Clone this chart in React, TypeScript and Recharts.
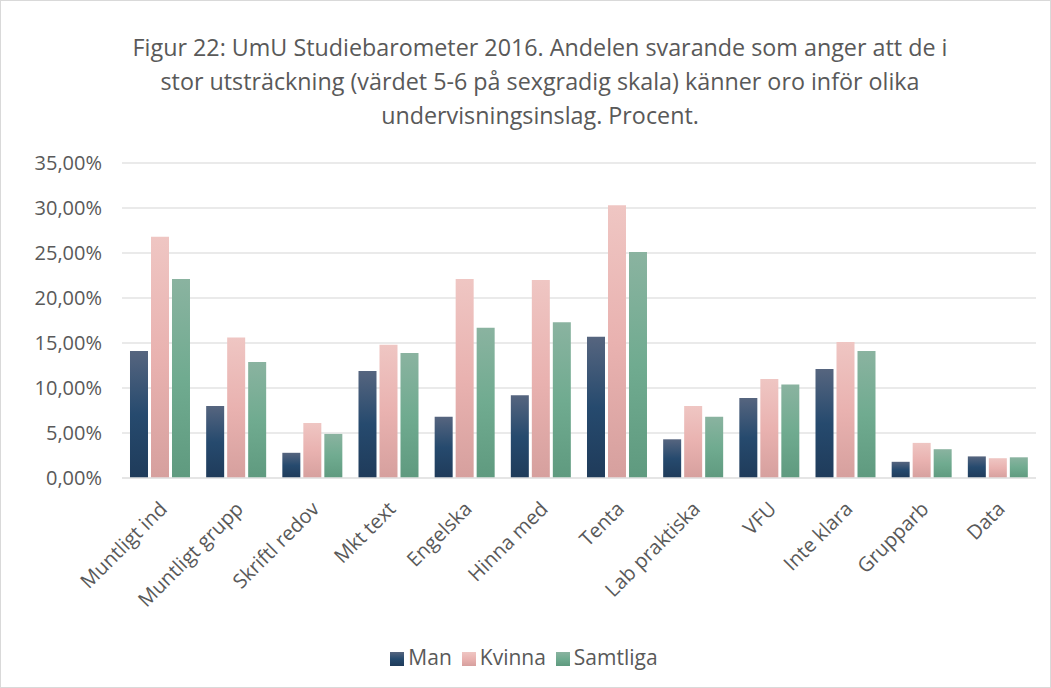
import { BarChart, Bar, XAxis, YAxis, CartesianGrid, Legend } from 'recharts'

const categories = [
  'Muntligt ind', 'Muntligt grupp', 'Skriftl redov', 'Mkt text', 'Engelska', 'Hinna med',
  'Tenta', 'Lab praktiska', 'VFU', 'Inte klara', 'Grupparb', 'Data',
]
const man = [14.1, 8.0, 2.8, 11.9, 6.8, 9.2, 15.7, 4.3, 8.9, 12.1, 1.8, 2.4]
const kvinna = [26.8, 15.6, 6.1, 14.8, 22.1, 22.0, 30.3, 8.0, 11.0, 15.1, 3.9, 2.2]
const samtliga = [22.1, 12.9, 4.9, 13.9, 16.7, 17.3, 25.1, 6.8, 10.4, 14.1, 3.2, 2.3]
const yTicks = [0, 5, 10, 15, 20, 25, 30, 35]
const seriesOrder = ['Man', 'Kvinna', 'Samtliga']

const data = categories.map((name, i) => ({
  name,
  Man: man[i],
  Kvinna: kvinna[i],
  Samtliga: samtliga[i],
}))

const font = '"Open Sans", Lato, sans-serif'
const textColor = '#595959'

const fmt = (v: number) => v.toFixed(2).replace('.', ',') + '%'

function XTick(props: any) {
  const { x, y, payload } = props
  return (
    <g transform={`translate(${x + 4},${y + 20})`}>
      <text
        textAnchor="end"
        transform="rotate(-45)"
        fontSize={20}
        fill={textColor}
        fontFamily={font}
        dy={6}
      >
        {payload.value}
      </text>
    </g>
  )
}

export default function App() {
  return (
    <div
      style={{
        position: 'absolute',
        left: 0,
        top: 0,
        width: 1051,
        height: 688,
        background: '#fff',
        boxSizing: 'border-box',
        border: '1px solid #d9d9d9',
        fontFamily: font,
      }}
    >
      <div
        style={{
          position: 'absolute',
          left: 0,
          top: 29,
          width: 1078,
          textAlign: 'center',
          fontSize: 23.3,
          lineHeight: '34px',
          color: textColor,
        }}
      >
        Figur 22: UmU Studiebarometer 2016. Andelen svarande som anger att de i
        <br />
        stor utsträckning (värdet 5-6 på sexgradig skala) känner oro inför olika
        <br />
        undervisningsinslag. Procent.
      </div>
      <BarChart
        width={1051}
        height={688}
        data={data}
        margin={{ top: 162, right: 16, left: 21, bottom: 53 }}
        barCategoryGap="10.5%"
        barGap={3}
        style={{ position: 'absolute', left: 0, top: 0 }}
      >
        <defs>
          <linearGradient id="gMan" x1="0" y1="0" x2="0" y2="1">
            <stop offset="0%" stopColor="#56657f" />
            <stop offset="50%" stopColor="#264a6e" />
            <stop offset="100%" stopColor="#1f3b5a" />
          </linearGradient>
          <linearGradient id="gKvinna" x1="0" y1="0" x2="0" y2="1">
            <stop offset="0%" stopColor="#efc6c3" />
            <stop offset="50%" stopColor="#e9b2b0" />
            <stop offset="100%" stopColor="#d6a09e" />
          </linearGradient>
          <linearGradient id="gSamtliga" x1="0" y1="0" x2="0" y2="1">
            <stop offset="0%" stopColor="#8ab3a0" />
            <stop offset="50%" stopColor="#70ab90" />
            <stop offset="100%" stopColor="#5f9a7f" />
          </linearGradient>
        </defs>
        <CartesianGrid vertical={false} stroke="#e3e3e3" strokeWidth={1.5} />
        <XAxis
          dataKey="name"
          interval={0}
          height={130}
          tick={<XTick />}
          tickLine={false}
          axisLine={{ stroke: '#e3e3e3', strokeWidth: 1.5 }}
        />
        <YAxis
          domain={[0, 35]}
          ticks={yTicks}
          width={100}
          tickFormatter={fmt}
          tickLine={false}
          axisLine={false}
          tickSize={0}
          tickMargin={20}
          tick={{ fontSize: 20, fill: textColor, fontFamily: font }}
        />
        <Legend
          verticalAlign="bottom"
          iconType="square"
          iconSize={14}
          itemSorter={(item: any) => seriesOrder.indexOf(item.value)}
          wrapperStyle={{ bottom: 18, fontSize: 21, fontFamily: font }}
          formatter={(value) => <span style={{ color: textColor }}>{value}</span>}
        />
        <Bar dataKey="Man" fill="url(#gMan)" isAnimationActive={false} />
        <Bar dataKey="Kvinna" fill="url(#gKvinna)" isAnimationActive={false} />
        <Bar dataKey="Samtliga" fill="url(#gSamtliga)" isAnimationActive={false} />
      </BarChart>
    </div>
  )
}
